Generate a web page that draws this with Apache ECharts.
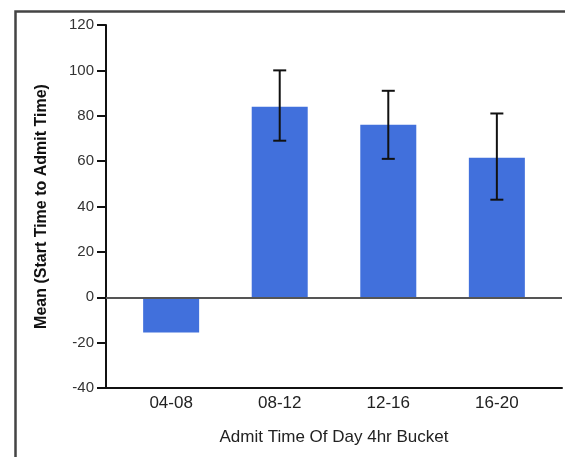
<!DOCTYPE html>
<html>
<head>
<meta charset="utf-8">
<script src="https://cdn.jsdelivr.net/npm/echarts@6/dist/echarts.min.js"></script>
<style>
html,body{margin:0;padding:0;background:#fff;}
#chart{width:565px;height:457px;}
</style>
</head>
<body>
<div id="chart"></div>
<script>
const categories = ['04-08', '08-12', '12-16', '16-20'];
const meanValues = [-15.5, 84, 76, 61.5];
const errLow = [null, 69, 61, 43];
const errHigh = [null, 100, 91, 81];
const yTicks = [-40, -20, 0, 20, 40, 60, 80, 100, 120];

const FONT = 'Liberation Sans, Arial, sans-serif';
const chart = echarts.init(document.getElementById('chart'), null, {renderer: 'canvas'});

const barData = meanValues.map((v, i) => [i, v]);
const errData = [];
categories.forEach((c, i) => {
  if (errLow[i] != null) errData.push([i, errLow[i], errHigh[i]]);
});

chart.setOption({
  animation: false,
  backgroundColor: '#fff',
  graphic: [{
    type: 'rect',
    left: 13, top: 9,
    shape: {width: 700, height: 600},
    style: {fill: 'none', stroke: '#444', lineWidth: 2.5},
    silent: true
  }],
  grid: {left: 106, top: 25, right: 3, bottom: 69, containLabel: false},
  xAxis: {
    type: 'value',
    min: -0.6, max: 3.6,
    name: 'Admit Time Of Day 4hr Bucket',
    nameLocation: 'middle',
    nameGap: 41,
    nameTextStyle: {fontFamily: FONT, fontSize: 17, color: '#222'},
    axisLine: {show: true, onZero: false, lineStyle: {color: '#111', width: 2}},
    axisTick: {show: false},
    splitLine: {show: false},
    axisLabel: {
      customValues: categories.map((c, i) => i),
      formatter: v => categories[Math.round(v)] || '',
      fontFamily: FONT, fontSize: 17, color: '#222', margin: 7
    }
  },
  yAxis: {
    type: 'value',
    min: yTicks[0], max: yTicks[yTicks.length - 1], interval: 20,
    name: 'Mean (Start Time to Admit Time)',
    nameLocation: 'middle',
    nameGap: 56,
    nameRotate: 90,
    nameTextStyle: {fontFamily: FONT, fontSize: 16, fontWeight: 'bold', color: '#111'},
    axisLine: {show: true, onZero: false, lineStyle: {color: '#111', width: 2}},
    axisTick: {show: true, inside: false, length: 9, lineStyle: {color: '#111', width: 2}},
    splitLine: {show: false},
    axisLabel: {fontFamily: FONT, fontSize: 15, color: '#333', margin: 12}
  },
  series: [{
    type: 'bar',
    data: barData,
    barWidth: 56,
    itemStyle: {color: '#4170dc'},
    markLine: {
      silent: true,
      symbol: 'none',
      label: {show: false},
      lineStyle: {color: '#555', width: 2, type: 'solid'},
      data: [{yAxis: 0}]
    },
    z: 2
  }, {
    type: 'custom',
    data: errData,
    z: 5,
    renderItem: function (params, api) {
      const x = api.value(0);
      const lo = api.coord([x, api.value(1)]);
      const hi = api.coord([x, api.value(2)]);
      const hw = 6.5;
      const st = {stroke: '#111', lineWidth: 2};
      return {
        type: 'group',
        children: [
          {type: 'line', shape: {x1: hi[0], y1: hi[1], x2: lo[0], y2: lo[1]}, style: st},
          {type: 'line', shape: {x1: hi[0] - hw, y1: hi[1], x2: hi[0] + hw, y2: hi[1]}, style: st},
          {type: 'line', shape: {x1: lo[0] - hw, y1: lo[1], x2: lo[0] + hw, y2: lo[1]}, style: st}
        ]
      };
    }
  }]
});
</script>
</body>
</html>
